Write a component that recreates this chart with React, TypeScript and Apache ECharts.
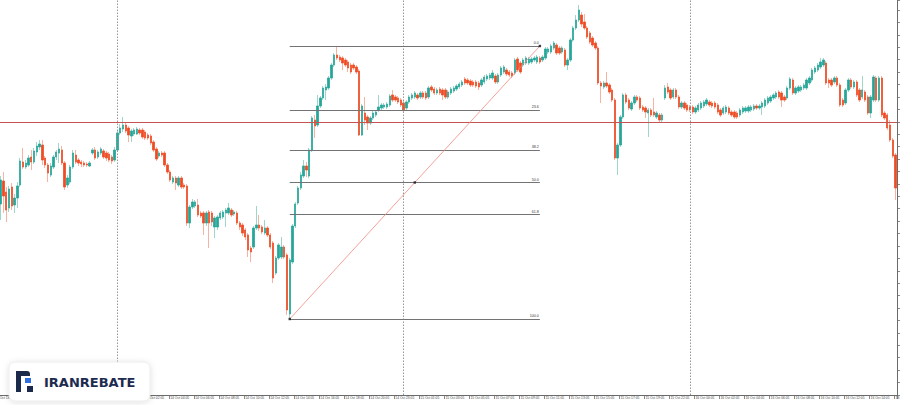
import { useEffect, useRef } from 'react';
import * as echarts from 'echarts';

// x-axis tick labels (one every 9 bars)
const tickLabels = [
  '13 Oct 13:05', '13 Oct 15:05', '13 Oct 17:05', '13 Oct 19:05', '13 Oct 22:05',
  '14 Oct 00:05', '14 Oct 02:05', '14 Oct 04:05', '14 Oct 06:05', '14 Oct 08:05',
  '14 Oct 10:05', '14 Oct 12:05', '14 Oct 14:05', '14 Oct 16:05', '14 Oct 18:05',
  '14 Oct 20:05', '14 Oct 23:05', '15 Oct 01:05', '15 Oct 03:05', '15 Oct 05:05',
  '15 Oct 07:05', '15 Oct 09:05', '15 Oct 11:05', '15 Oct 13:05', '15 Oct 15:05',
  '15 Oct 17:05', '15 Oct 19:05', '15 Oct 22:05', '16 Oct 00:05', '16 Oct 02:05',
  '16 Oct 04:05', '16 Oct 06:05', '16 Oct 08:05', '16 Oct 10:05', '16 Oct 12:05',
  '16 Oct 14:05', '16 Oct 16:05',
];
const barsPerLabel = 9;

// candles: [open, close, low, high]
const candles: number[][] = [
  [200,196,192,205],[196,199,190,203],[191,215,175,219],[214,199,182,223],[203,185,173,208],[187,206,183,209],[208,189,185,212],[190,197,182,201],
  [197,209,187,213],[210,234,208,237],[233,228,226,247],[228,232,226,235],[230,237,228,240],[238,233,225,245],[233,244,231,247],[243,249,239,253],
  [248,251,245,255],[250,235,230,255],[237,230,227,239],[230,222,213,232],[220,229,218,232],[228,238,226,240],[238,243,235,245],[242,246,232,252],
  [245,232,230,249],[232,208,205,234],[210,217,207,220],[213,228,211,230],[228,242,226,245],[240,233,231,245],[235,232,229,237],[233,231,228,235],
  [232,230,228,234],[231,230,228,233],[229,232,228,234],[242,245,240,247],[245,237,235,248],[238,243,236,245],[242,246,240,248],[244,238,236,246],
  [242,237,234,244],[241,235,233,243],[238,234,231,240],[235,245,233,248],[245,262,244,265],[262,267,260,271],[266,270,263,278],[270,264,262,273],
  [267,260,253,269],[259,264,253,266],[261,265,259,267],[261,266,260,268],[265,262,260,267],[265,258,256,267],[263,257,255,265],[260,257,255,262],
  [259,252,250,261],[253,245,243,255],[246,236,234,248],[239,242,237,244],[242,240,238,244],[242,230,228,244],[230,223,221,232],[223,215,213,225],
  [213,217,211,219],[217,212,205,219],[210,217,208,219],[217,208,206,219],[210,208,206,212],[209,172,169,211],[172,188,167,190],[188,193,186,196],
  [189,193,187,195],[190,180,178,196],[182,179,177,184],[182,172,160,184],[172,182,169,184],[183,172,147,185],[182,173,169,184],[168,177,157,179],
  [168,178,165,180],[177,182,175,184],[178,183,176,185],[182,185,168,187],[182,187,180,192],[185,180,178,187],[181,183,179,185],[182,172,170,184],
  [172,168,165,174],[170,162,159,172],[165,158,155,167],[160,145,138,162],[147,143,133,149],[148,167,146,169],[167,170,165,189],[170,167,164,180],
  [168,163,161,170],[162,167,160,175],[167,160,158,169],[160,148,146,162],[152,117,112,154],[122,137,120,139],[137,150,135,152],[138,148,136,158],
  [148,138,136,150],[140,85,80,142],[81,135,76,137],[133,169,131,171],[169,191,167,193],[192,207,190,209],[207,220,205,223],[219,229,217,235],
  [229,225,218,233],[219,245,217,247],[245,277,243,279],[275,269,257,280],[270,289,268,300],[289,297,287,299],[297,307,295,309],[305,308,295,311],
  [307,317,305,319],[317,330,315,332],[330,340,328,342],[340,337,335,348],[338,335,333,340],[337,332,325,339],[335,330,328,337],[333,327,323,335],
  [330,323,321,332],[330,327,325,332],[328,323,321,330],[324,260,259,326],[260,289,259,291],[282,275,270,298],[278,272,265,280],[272,277,270,279],
  [277,282,275,284],[280,283,278,285],[285,288,283,300],[287,290,285,292],[288,290,286,292],[288,291,286,293],[290,299,288,301],[300,295,293,305],
  [298,295,293,300],[297,293,291,299],[295,290,288,297],[292,285,283,294],[287,293,285,295],[293,298,291,300],[297,300,295,302],[298,302,296,304],
  [300,297,295,302],[298,302,296,304],[302,298,296,304],[302,297,295,304],[298,307,296,309],[308,305,303,310],[306,302,300,308],[302,305,300,307],
  [306,302,300,308],[305,300,295,307],[305,298,296,307],[298,303,296,305],[302,306,300,308],[304,307,302,309],[306,309,304,311],[308,311,306,313],
  [310,313,308,315],[316,312,310,318],[315,312,310,317],[314,310,308,316],[313,310,308,315],[313,309,307,315],[312,308,305,314],[310,315,308,317],
  [313,318,311,320],[316,319,314,321],[317,320,315,322],[317,322,315,325],[319,313,311,321],[313,320,311,322],[320,327,318,329],[323,328,321,330],
  [325,321,319,327],[323,320,318,325],[322,319,317,324],[322,335,320,337],[336,325,323,338],[332,323,321,334],[330,335,328,337],[332,337,330,339],
  [332,336,330,338],[333,336,331,338],[335,337,333,339],[333,338,331,340],[337,333,331,339],[335,338,333,340],[337,346,335,348],[343,346,341,348],
  [343,349,341,351],[347,352,345,354],[350,342,340,352],[347,342,340,349],[343,347,341,349],[345,330,328,347],[330,335,325,337],[335,355,333,357],
  [355,367,353,369],[367,375,365,380],[375,385,373,390],[380,371,368,383],[373,367,365,381],[367,358,356,369],[362,353,351,364],[357,350,348,359],
  [352,347,345,354],[347,312,310,349],[312,309,292,314],[308,312,306,314],[312,309,307,323],[310,303,301,312],[305,295,293,307],[295,237,235,297],
  [237,250,220,252],[250,278,248,280],[278,300,276,302],[300,293,291,302],[295,287,285,297],[286,292,284,294],[292,298,290,300],[298,295,293,300],
  [297,287,285,299],[288,285,283,290],[287,283,277,289],[282,285,258,287],[285,280,278,287],[283,280,278,297],[278,282,276,284],[280,275,273,282],
  [275,280,273,282],[297,307,295,310],[308,303,301,312],[305,297,295,307],[298,305,296,307],[305,298,296,307],[298,288,286,300],[288,292,286,294],
  [292,287,285,294],[290,285,283,292],[288,285,283,290],[288,283,281,290],[283,287,281,289],[285,290,283,292],[287,292,285,294],[289,293,287,295],
  [291,295,289,297],[293,290,288,295],[292,289,287,294],[292,288,286,294],[290,283,281,292],[285,280,278,287],[282,287,280,289],[283,288,281,290],
  [287,282,280,289],[283,280,278,285],[283,278,276,285],[282,278,276,284],[280,285,278,287],[283,287,281,289],[284,287,282,289],[284,288,282,290],
  [285,288,283,290],[286,289,284,291],[289,287,285,291],[287,289,285,291],[288,292,280,294],[289,295,287,297],[292,297,290,299],[294,298,292,300],
  [297,300,295,302],[298,302,296,304],[303,298,296,305],[302,295,288,304],[298,295,293,300],[297,307,295,309],[307,316,305,318],[315,302,300,317],
  [302,307,300,309],[304,308,302,310],[305,308,303,310],[307,310,305,312],[307,315,305,317],[312,317,310,319],[315,325,313,327],[323,327,321,329],
  [325,330,323,332],[328,333,326,337],[330,335,328,337],[332,312,310,334],[315,312,307,317],[315,310,308,317],[313,317,311,319],[317,310,308,319],
  [310,290,288,312],[295,290,288,297],[292,305,290,307],[305,315,303,317],[315,308,306,317],[308,313,306,315],[313,300,298,315],[305,295,293,307],
  [298,305,296,319],[303,295,293,305],[298,282,280,300],[282,298,277,300],[295,318,293,320],[317,295,293,319],[295,317,293,319],[317,280,278,319],
  [282,277,275,284],[280,267,265,282],[270,255,253,275],[255,239,237,257],[240,207,195,242],
];

// Fibonacci retracement drawn from swing low to swing high
const fibRatios = [0, 23.6, 38.2, 50.0, 61.8, 100.0];
const fibLabels = ['0.0', '23.6', '38.2', '50.0', '61.8', '100.0'];
const fibLow = 76;
const fibHigh = 349;
const fibStartBar = 106;
const fibEndBar = 196;

// horizontal level and day separators
const resistanceLevel = 273;
const daySeparatorBars = [43.5, 147, 250];

const UP = '#26a69a';
const DOWN = '#ef4b24';
const WICK_UP = '#9ed6cc';
const WICK_DOWN = '#f6b3a2';

export default function App() {
  const ref = useRef<HTMLDivElement>(null);

  useEffect(() => {
    document.body.style.margin = '0';
    const chart = echarts.init(ref.current!, null, { renderer: 'svg', width: 900, height: 405 });

    const categories = candles.map((_, i) =>
      i % barsPerLabel === 0 ? (tickLabels[i / barsPerLabel] ?? '') : ''
    );
    const bodies = candles.map(([o, c]) => [o, c, Math.min(o, c), Math.max(o, c)]);
    const fibLevel = (r: number) => fibHigh - (r / 100) * (fibHigh - fibLow);
    const midBar = (fibStartBar + fibEndBar) / 2;

    const option: any = {
      animation: false,
      backgroundColor: '#ffffff',
      grid: { left: -6.25, right: 3, top: 0, bottom: 10, containLabel: false, outerBoundsMode: 'none' },
      xAxis: {
        type: 'category',
        data: categories,
        boundaryGap: true,
        axisLine: { show: true, lineStyle: { color: '#6b6b6b', width: 1 } },
        axisTick: { show: true, interval: barsPerLabel - 1, length: 4, lineStyle: { color: '#6b6b6b', width: 0.8 } },
        axisLabel: {
          show: true,
          interval: barsPerLabel - 1,
          fontSize: 3.3,
          color: '#444',
          align: 'left',
          margin: 1.5,
          fontFamily: 'Liberation Sans',
          hideOverlap: false,
        },
        splitLine: { show: false },
      },
      yAxis: {
        type: 'value',
        position: 'right',
        min: 0,
        max: 395,
        interval: 12.42,
        axisLine: { show: true, lineStyle: { color: '#6b6b6b', width: 1 } },
        axisTick: { show: true, length: 3, lineStyle: { color: '#6b6b6b', width: 0.8 } },
        axisLabel: { show: false },
        splitLine: { show: false },
      },
      series: [
        {
          type: 'candlestick',
          name: 'wicks',
          data: candles,
          barWidth: 1.9,
          z: 2,
          silent: true,
          itemStyle: { color: WICK_UP, color0: WICK_DOWN, borderColor: WICK_UP, borderColor0: WICK_DOWN, borderWidth: 1 },
          markLine: {
            silent: true,
            symbol: ['none', 'none'],
            animation: false,
            label: { show: false },
            data: [
              ...daySeparatorBars.map((b) => ({
                xAxis: b,
                lineStyle: { color: '#8a8a8a', type: [1.5, 1.5], width: 0.9 },
              })),
              { yAxis: resistanceLevel, lineStyle: { color: '#c45452', type: 'solid', width: 1.2 } },
            ],
          },
        },
        {
          type: 'candlestick',
          name: 'bodies',
          data: bodies,
          barWidth: 1.9,
          z: 3,
          silent: true,
          itemStyle: { color: UP, color0: DOWN, borderColor: UP, borderColor0: DOWN, borderWidth: 0.6 },
          markLine: {
            silent: true,
            symbol: ['none', 'none'],
            animation: false,
            z: 6,
            lineStyle: { color: '#737373', width: 1, type: 'solid' },
            label: { show: true, position: 'insideEndTop', fontSize: 3.6, color: '#333', distance: 1, fontFamily: 'Liberation Sans' },
            data: [
              ...fibRatios.map((r, k) => [
                { coord: [fibStartBar, fibLevel(r)], label: { formatter: fibLabels[k] } },
                { coord: [fibEndBar, fibLevel(r)] },
              ]),
              [
                { coord: [fibStartBar, fibLow], label: { show: false }, lineStyle: { color: '#f08a82', width: 0.8, type: 'solid' } },
                { coord: [fibEndBar, fibHigh] },
              ],
            ],
          },
        },
        {
          type: 'scatter',
          data: [
            [fibStartBar, fibLow],
            [midBar, (fibLow + fibHigh) / 2],
            [fibEndBar, fibHigh],
          ],
          symbol: 'rect',
          symbolSize: 2.4,
          itemStyle: { color: '#111' },
          silent: true,
          z: 7,
        },
      ],
      graphic: [
        {
          type: 'rect',
          z: 100,
          shape: { x: 9, y: 362, width: 141, height: 39, r: 6 },
          style: { fill: '#ffffff', stroke: '#ececec', lineWidth: 1, shadowBlur: 6, shadowColor: 'rgba(0,0,0,0.12)', shadowOffsetY: 1 },
        },
        { type: 'rect', z: 101, shape: { x: 16, y: 371, width: 5, height: 21 }, style: { fill: '#1b2a4a' } },
        { type: 'rect', z: 101, shape: { x: 16, y: 371, width: 14, height: 5, r: [0, 3, 0, 0] }, style: { fill: '#1b2a4a' } },
        { type: 'rect', z: 101, shape: { x: 25, y: 378, width: 6, height: 5 }, style: { fill: '#2f6fe0' } },
        { type: 'rect', z: 101, shape: { x: 27, y: 386, width: 6, height: 6 }, style: { fill: '#1b2a4a' } },
        {
          type: 'text',
          z: 101,
          style: {
            text: 'IRANREBATE',
            x: 44,
            y: 382,
            fill: '#1d2b4f',
            fontSize: 13,
            fontWeight: 'bold',
            fontFamily: 'DejaVu Sans',
            verticalAlign: 'middle',
          },
        },
      ],
    };

    chart.setOption(option);
    return () => chart.dispose();
  }, []);

  return (
    <div
      ref={ref}
      style={{ width: 900, height: 405, position: 'absolute', left: 0, top: 0, background: '#fff' }}
    />
  );
}
